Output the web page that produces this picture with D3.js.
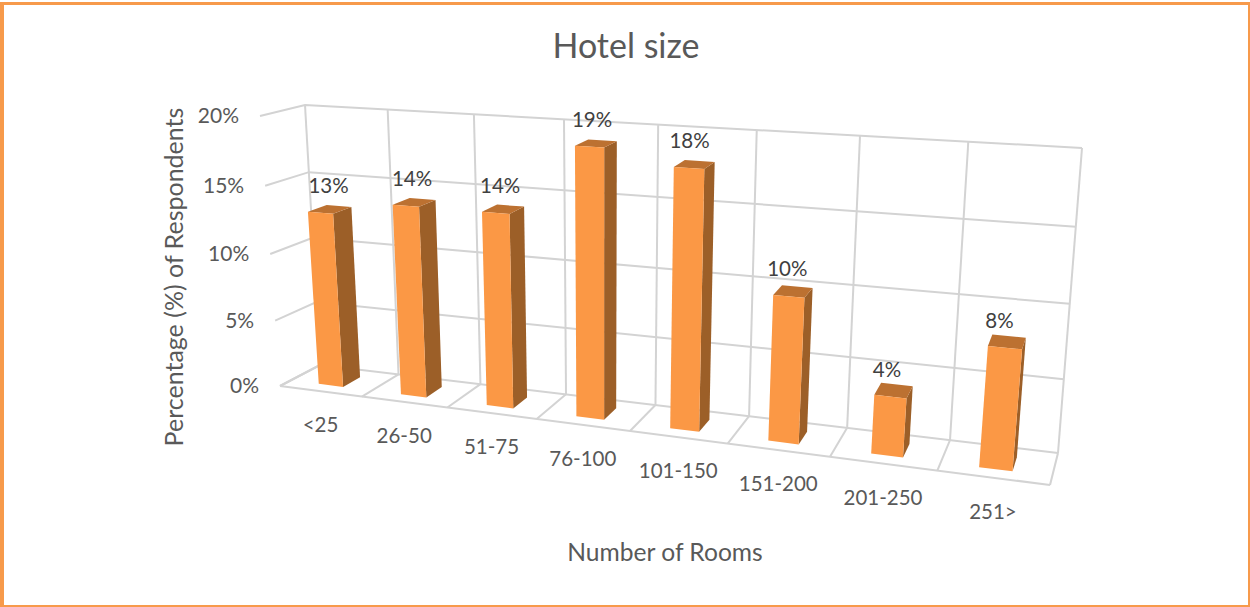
<!DOCTYPE html>
<html>
<head>
<meta charset="utf-8">
<script src="https://cdn.jsdelivr.net/npm/d3@7"></script>
<style>
  html, body { margin: 0; padding: 0; background: #fff; }
  svg { display: block; }
  text { font-family: Lato, "Open Sans", sans-serif; }
</style>
</head>
<body>
<svg id="chart" width="1250" height="607"></svg>
<script>
// Survey results: share of respondents by hotel size
const categories = ["<25", "26-50", "51-75", "76-100", "101-150", "151-200", "201-250", "251>"];
const percentages = [13, 14, 14, 19, 18, 10, 4, 8];
const percentTicks = [0, 5, 10, 15, 20];
const chartTitle = "Hotel size";
const xAxisTitle = "Number of Rooms";
const yAxisTitle = "Percentage (%) of Respondents";

(function drawChart() {
const WIDTH = 1250, HEIGHT = 607;
const svg = d3.select("#chart");

// Corners of the 3D plot box on screen
const box = {
  backTopLeft: [305, 105], backTopRight: [1082, 148],
  backBottomLeft: [320, 365], backBottomRight: [1058, 453],
  frontTopLeft: [260, 116], frontTopRight: [1078, 165],
  frontBottomLeft: [280, 386], frontBottomRight: [1050, 485]
};

// Foreshortening along the width and height of the box
const warp = k => t => t / (t + k * (1 - t));
const widthWarp = warp(1.2);
const heightWarp = warp(1.045);

const band = d3.scaleBand().domain(categories).range([0, 1]).paddingInner(0.7).paddingOuter(0.35);
const slot = d3.scaleBand().domain(categories).range([0, 1]);
const valueScale = d3.scaleLinear().domain([0, 20]).range([0, 1]);
const depthScale = d3.scaleLinear().domain([0, 1]).range([0, 1]); // 0 = front, 1 = back
const mix = (a, b, t) => [a[0] + (b[0] - a[0]) * t, a[1] + (b[1] - a[1]) * t];

// Box coordinates (u across, d depth, v percent) to screen position
function project(u, d, v) {
  const uw = widthWarp(u), h = heightWarp(valueScale(v)), dep = depthScale(d);
  const frontBottom = mix(box.frontBottomLeft, box.frontBottomRight, uw);
  const frontTop = mix(box.frontTopLeft, box.frontTopRight, uw);
  const backBottom = mix(box.backBottomLeft, box.backBottomRight, uw);
  const backTop = mix(box.backTopLeft, box.backTopRight, uw);
  return mix(mix(frontBottom, frontTop, h), mix(backBottom, backTop, h), dep);
}

const line = d3.line();
const GRID = "#d3d3d3";
const plotGrid = svg.append("g").attr("fill", "none").attr("stroke", GRID).attr("stroke-width", 2);
const drawLine = pts => plotGrid.append("path").attr("d", line(pts));

const maxTick = percentTicks[percentTicks.length - 1];
const uEdges = [...categories.map(c => slot(c)), 1];

// Horizontal gridlines on the side and back walls
percentTicks.forEach(v => {
  drawLine([project(0, 0, v), project(0, 1, v), project(1, 1, v)]);
});
// Vertical gridlines on the back wall
uEdges.forEach(u => drawLine([project(u, 1, 0), project(u, 1, maxTick)]));
// Floor: depth lines and front edge
uEdges.forEach(u => drawLine([project(u, 0, 0), project(u, 1, 0)]));
drawLine([project(0, 0, 0), project(1, 0, 0)]);

// Bars
const BAR_FRONT = 0.27, BAR_BACK = 0.72;
const bars = svg.append("g").selectAll("g")
  .data(categories.map((c, i) => ({ category: c, value: percentages[i] })))
  .join("g");

const closed = pts => line(pts) + "Z";
bars.append("path").attr("fill", "#9c5f28").attr("d", d => {
  const r = band(d.category) + band.bandwidth();
  return closed([project(r, BAR_FRONT, 0), project(r, BAR_BACK, 0), project(r, BAR_BACK, d.value), project(r, BAR_FRONT, d.value)]);
});
bars.append("path").attr("fill", "#bc7131").attr("d", d => {
  const l = band(d.category), r = l + band.bandwidth();
  return closed([project(l, BAR_FRONT, d.value), project(r, BAR_FRONT, d.value), project(r, BAR_BACK, d.value), project(l, BAR_BACK, d.value)]);
});
bars.append("path").attr("fill", "#fb9845").attr("d", d => {
  const l = band(d.category), r = l + band.bandwidth();
  return closed([project(l, BAR_FRONT, 0), project(r, BAR_FRONT, 0), project(r, BAR_FRONT, d.value), project(l, BAR_FRONT, d.value)]);
});

// Value labels above each bar, drifting slightly left of centre toward the right side
bars.append("text")
  .attr("text-anchor", "middle")
  .attr("font-size", 20.5)
  .attr("fill", "#404040")
  .attr("x", d => {
    const u = band(d.category) + band.bandwidth() / 2;
    return project(u, 0.5, d.value)[0] - 1 - 7 * u;
  })
  .attr("y", d => project(band(d.category) + band.bandwidth() / 2, BAR_FRONT, d.value)[1] - 27 + 7)
  .text(d => d.value + "%");

// Category labels below the front edge
svg.append("g").selectAll("text").data(categories).join("text")
  .attr("text-anchor", "middle")
  .attr("font-size", 20.5)
  .attr("fill", "#595959")
  .attr("x", c => project(slot(c) + slot.bandwidth() / 2, 0, 0)[0])
  .attr("y", c => project(slot(c) + slot.bandwidth() / 2, 0, 0)[1] + 33 + 8)
  .text(c => c);

// Percentage labels left of the side wall
svg.append("g").selectAll("text").data(percentTicks).join("text")
  .attr("text-anchor", "end")
  .attr("font-size", 21)
  .attr("fill", "#595959")
  .attr("x", v => project(0, 0, v)[0] - 21)
  .attr("y", v => project(0, 0, v)[1] + 7)
  .text(v => v + "%");

// Titles
svg.append("text").attr("x", 626).attr("y", 58).attr("text-anchor", "middle")
  .attr("font-size", 34).attr("fill", "#595959").text(chartTitle);
svg.append("text").attr("x", 665).attr("y", 561).attr("text-anchor", "middle")
  .attr("font-size", 24.6).attr("fill", "#595959").text(xAxisTitle);
svg.append("text").attr("transform", "translate(183,277) rotate(-90)").attr("text-anchor", "middle")
  .attr("font-size", 25).attr("fill", "#595959").text(yAxisTitle);

// Chart frame
const frame = svg.append("g").attr("fill", "#f79a4b");
frame.append("rect").attr("x", 0).attr("y", 2).attr("width", WIDTH).attr("height", 3);
frame.append("rect").attr("x", 0).attr("y", 2).attr("width", 4).attr("height", HEIGHT - 2);
frame.append("rect").attr("x", WIDTH - 2).attr("y", 2).attr("width", 2).attr("height", HEIGHT - 2);
frame.append("rect").attr("x", 0).attr("y", HEIGHT - 2).attr("width", WIDTH).attr("height", 2);
})();
</script>
</body>
</html>
